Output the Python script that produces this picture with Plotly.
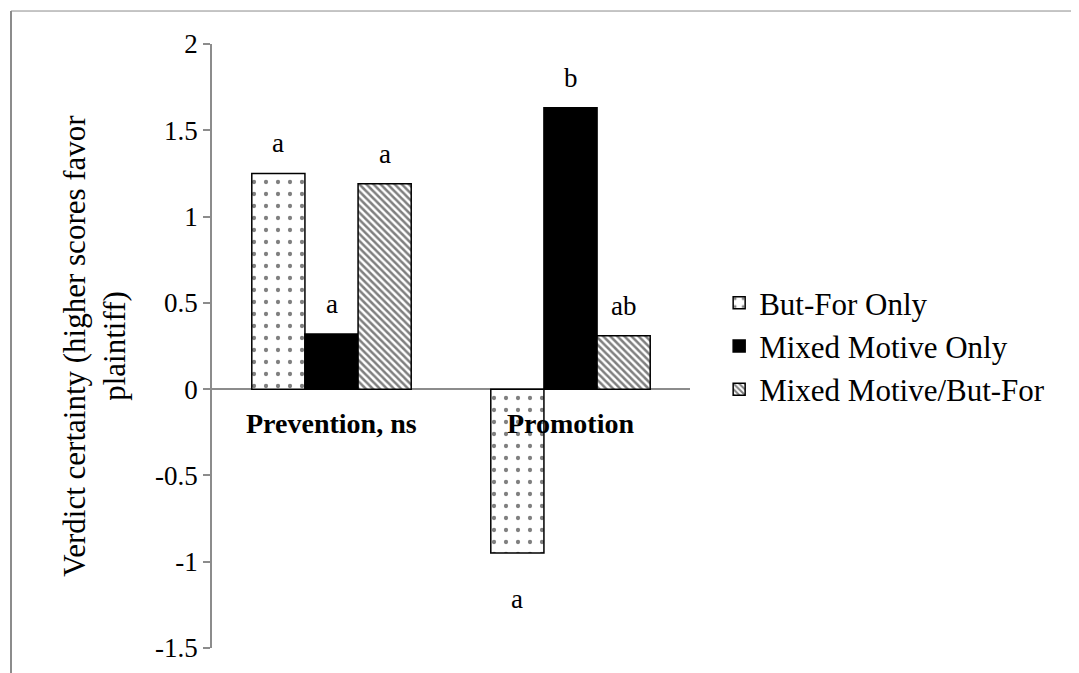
import plotly.graph_objects as go

categories = ["Prevention, ns", "Promotion"]
series_names = ["But-For Only", "Mixed Motive Only", "Mixed Motive/But-For"]
but_for = [1.25, -0.95]
mixed_motive = [0.32, 1.63]
mixed_but_for = [1.19, 0.31]
sig_but_for = ["a", "a"]
sig_mixed = ["a", "b"]
sig_mixed_but_for = ["a", "ab"]
y_ticks = [-1.5, -1, -0.5, 0, 0.5, 1, 1.5, 2]
y_title = "Verdict certainty (higher scores favor<br>plaintiff)"

FONT = "Liberation Serif, Times New Roman, serif"
GRAY = "#8c8c8c"

fig = go.Figure()
styles = [
    dict(color="white", pattern=dict(shape=".", fgcolor="black", bgcolor="white", size=12, solidity=0.1)),
    dict(color="black"),
    dict(color="white", pattern=dict(shape="\\", fgcolor="black", bgcolor="white", size=5, solidity=0.5)),
]
all_vals = [but_for, mixed_motive, mixed_but_for]
all_sigs = [sig_but_for, sig_mixed, sig_mixed_but_for]
for name, vals, st in zip(series_names, all_vals, styles):
    fig.add_trace(go.Bar(
        x=categories, y=vals, name=name,
        marker=dict(line=dict(color="black", width=1.5), **st),
        hoverinfo="skip",
    ))

# significance letters
n_series = len(series_names)
bargap = 0.333
group_w = 1 - bargap
bar_w = group_w / n_series
for si, (vals, sigs) in enumerate(zip(all_vals, all_sigs)):
    for ci, (v, s) in enumerate(zip(vals, sigs)):
        xpos = ci - group_w / 2 + bar_w * (si + 0.5)
        fig.add_annotation(
            x=xpos, y=v, xref="x", yref="y", text=s, showarrow=False,
            yanchor="middle", yshift=30 if v >= 0 else -46,
            font=dict(family=FONT, size=27, color="black"),
        )

# category labels at the zero line
for ci, c in enumerate(categories):
    fig.add_annotation(
        x=ci, y=0, xref="x", yref="y", text=f"<b>{c}</b>", showarrow=False,
        yanchor="top", yshift=-17,
        font=dict(family=FONT, size=28, color="black"),
    )

# outer frame (partially visible)
fig.add_shape(type="line", xref="paper", yref="paper", x0=-0.4205, x1=-0.4205, y0=1.0546, y1=-0.2,
              line=dict(color=GRAY, width=2))
fig.add_shape(type="line", xref="paper", yref="paper", x0=-0.4205, x1=2.0, y0=1.0546, y1=1.0546,
              line=dict(color=GRAY, width=1))

fig.update_layout(
    width=1079, height=673,
    margin=dict(l=204, r=397, t=36, b=33),
    paper_bgcolor="white", plot_bgcolor="white",
    barmode="group", bargap=bargap, bargroupgap=0,
    font=dict(family=FONT, size=26, color="black"),
    showlegend=True,
    legend=dict(x=1.061, y=0.50, xanchor="left", yanchor="middle",
                font=dict(family=FONT, size=31, color="black"),
                bgcolor="rgba(0,0,0,0)", tracegroupgap=0, itemwidth=30),
    xaxis=dict(range=[-0.5, 1.5], showticklabels=False, showline=False, showgrid=False,
               zeroline=False, ticks=""),
    yaxis=dict(range=[-1.5, 2], tickvals=y_ticks, ticktext=[f"{t:g}" for t in y_ticks],
               showgrid=False, showline=True, linecolor=GRAY, linewidth=1.5,
               ticks="outside", ticklen=7, tickcolor=GRAY, tickwidth=1.5,
               zeroline=True, zerolinecolor=GRAY, zerolinewidth=1.5,
               tickfont=dict(family=FONT, size=27, color="black"),
               title=dict(text=y_title, font=dict(family=FONT, size=31, color="black"), standoff=20)),
)

fig.write_html("out.html")
